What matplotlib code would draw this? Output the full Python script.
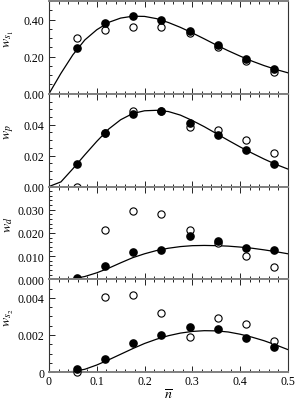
import matplotlib
matplotlib.use('Agg')
import matplotlib.pyplot as plt
from matplotlib.ticker import MultipleLocator, FixedFormatter, FixedLocator

plt.rcParams['font.family'] = ['Liberation Serif', 'DejaVu Serif']
plt.rcParams['mathtext.fontset'] = 'stix'

# sample points (n bar)
n_pts = [0.0588, 0.1176, 0.1765, 0.2353, 0.2941, 0.3529, 0.4118, 0.4706]

# curve sample positions
n_curve = [0.0, 0.025, 0.05, 0.075, 0.1, 0.125, 0.15, 0.175, 0.2, 0.225, 0.25,
           0.275, 0.3, 0.325, 0.35, 0.375, 0.4, 0.425, 0.45, 0.475, 0.5]

# w_s1
s1_filled = [0.249, 0.379, 0.417, 0.396, 0.337, 0.263, 0.189, 0.132]
s1_open = [0.298, 0.342, 0.361, 0.361, 0.330, 0.253, 0.177, 0.116]
s1_curve = [0.0, 0.11, 0.21, 0.29, 0.345, 0.385, 0.408, 0.418, 0.417, 0.405, 0.384,
            0.358, 0.328, 0.296, 0.263, 0.232, 0.203, 0.176, 0.152, 0.131, 0.113]

# w_p
p_filled = [0.0148, 0.0346, 0.0469, 0.0489, 0.0412, 0.0331, 0.0234, 0.0146]
p_open = [0.0, 0.0346, 0.0490, 0.0489, 0.0382, 0.0365, 0.0304, 0.0219]
p_curve = [0.0, 0.003, 0.0115, 0.0205, 0.0292, 0.0372, 0.0432, 0.0472, 0.0490, 0.0493, 0.0485,
           0.0462, 0.0427, 0.0387, 0.0343, 0.0299, 0.0256, 0.0216, 0.0178, 0.0143, 0.0113]

# w_d
d_filled = [0.0006, 0.0059, 0.0116, 0.0126, 0.0185, 0.0164, 0.0135, 0.0126]
d_open = [0.0, 0.0211, 0.0293, 0.0281, 0.0211, 0.0156, 0.0099, 0.0055]
d_curve = [0.0, 0.0, 0.0002, 0.0012, 0.0028, 0.0048, 0.0071, 0.0093, 0.0110, 0.0124, 0.0134,
           0.0141, 0.0145, 0.0146, 0.0145, 0.0143, 0.0139, 0.0134, 0.0127, 0.0119, 0.0110]

# w_s2
s2_filled = [0.00018, 0.00072, 0.00155, 0.00202, 0.00243, 0.00231, 0.00186, 0.00137]
s2_open = [0.0, 0.00402, 0.00418, 0.00317, 0.00189, 0.00294, 0.00258, 0.00168]
s2_curve = [0.0, 0.0, 0.00003, 0.00015, 0.00038, 0.00066, 0.00096, 0.00126, 0.00154, 0.00177,
            0.00196, 0.00210, 0.00219, 0.00223, 0.00222, 0.00216, 0.00204, 0.00188, 0.00169,
            0.00146, 0.00121]

panels = [
    (s1_filled, s1_open, s1_curve, r'$w_{s_1}$', 0.5, 0.2, 0.05, ['0.00', '0.20', '0.40']),
    (p_filled, p_open, p_curve, r'$w_p$', 0.06, 0.02, 0.005, ['0.00', '0.02', '0.04']),
    (d_filled, d_open, d_curve, r'$w_d$', 0.04, 0.01, 0.002, ['0.000', '0.010', '0.020', '0.030']),
    (s2_filled, s2_open, s2_curve, r'$w_{s_2}$', 0.005, 0.002, 0.0005, ['0', '0.002', '0.004']),
]

fig, axes = plt.subplots(4, 1, figsize=(2.95, 4.02), dpi=100, sharex=True)
fig.subplots_adjust(left=0.166, right=0.976, top=0.995, bottom=0.072, hspace=0)

for ax, (filled, hollow, curve, lab, ytop, major, minor, ticklabs) in zip(axes, panels):
    ax.plot(n_curve, curve, color='black', lw=0.9, zorder=2)
    ax.plot(n_pts, hollow, 'o', ms=5.2, mfc='white', mec='black', mew=0.8, zorder=3,
            clip_on=False)
    ax.plot(n_pts, filled, 'o', ms=5.2, color='black', zorder=4, clip_on=False)
    ax.set_xlim(0, 0.5)
    ax.set_ylim(0, ytop)
    locs = [i * major for i in range(len(ticklabs))]
    ax.yaxis.set_major_locator(FixedLocator(locs))
    ax.yaxis.set_major_formatter(FixedFormatter(ticklabs))
    ax.yaxis.set_minor_locator(MultipleLocator(minor))
    ax.xaxis.set_major_locator(MultipleLocator(0.1))
    ax.xaxis.set_minor_locator(MultipleLocator(0.02))
    ax.tick_params(which='both', direction='in', top=True, right=False, labelsize=8.5)
    ax.tick_params(which='major', length=4, width=0.6)
    ax.tick_params(which='minor', length=2, width=0.6)
    ax.set_ylabel(lab, fontsize=10, labelpad=2)
    ax.yaxis.set_label_coords(-0.14, 0.6)
    for side in ['top', 'bottom']:
        ax.spines[side].set_color('#808080')
        ax.spines[side].set_linewidth(1.4)
    for side in ['left', 'right']:
        ax.spines[side].set_color('#333333')
        ax.spines[side].set_linewidth(0.8)

axes[-1].xaxis.set_major_formatter(FixedFormatter(['0', '0.1', '0.2', '0.3', '0.4', '0.5']))
axes[-1].xaxis.set_major_locator(FixedLocator([0, 0.1, 0.2, 0.3, 0.4, 0.5]))
axes[-1].tick_params(axis='x', pad=2)
axes[-1].set_xlabel(r'$\overline{n}$', fontsize=10, labelpad=0)

fig.savefig('out.png', dpi=100)
